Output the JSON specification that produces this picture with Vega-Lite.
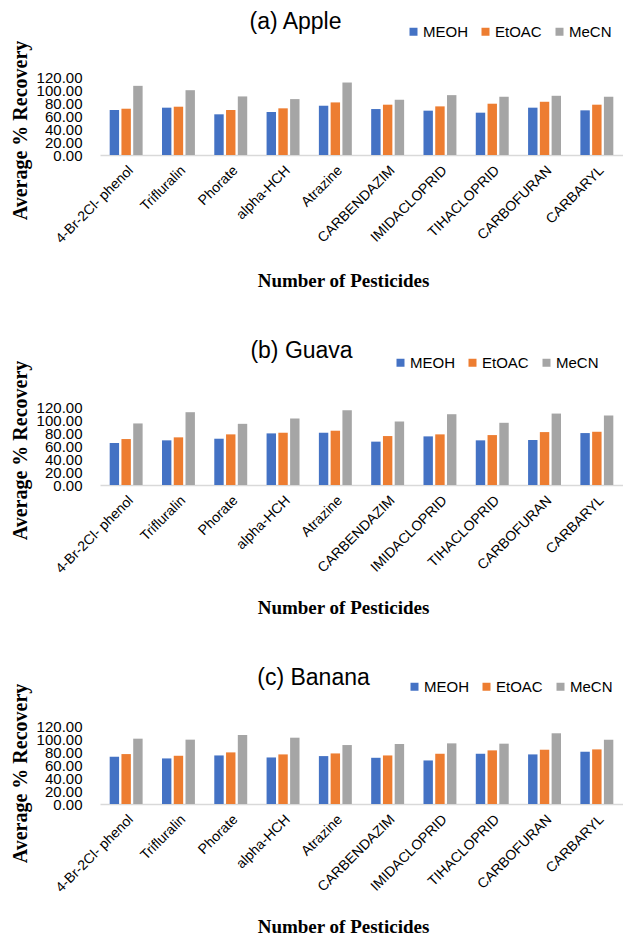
{
  "$schema": "https://vega.github.io/schema/vega-lite/v6.json",
  "padding": {"left": 10, "top": 11, "right": 0, "bottom": 0},
  "background": "white",
  "spacing": 50,
  "config": {
    "view": {"stroke": null},
    "title": {"font": "Liberation Sans", "fontSize": 23, "fontWeight": "normal", "color": "#000000", "baseline": "alphabetic"},
    "axis": {"labelColor": "#000000", "titleColor": "#000000", "grid": false, "ticks": false, "labelOverlap": false}
  },
  "datasets": {
    "rec": [
      {"fruit": "Apple", "pesticide": "4-Br-2Cl- phenol", "solvent": "MEOH", "value": 69.2},
      {"fruit": "Apple", "pesticide": "4-Br-2Cl- phenol", "solvent": "EtOAC", "value": 71.2},
      {"fruit": "Apple", "pesticide": "4-Br-2Cl- phenol", "solvent": "MeCN", "value": 106.4},
      {"fruit": "Apple", "pesticide": "Trifluralin", "solvent": "MEOH", "value": 72.8},
      {"fruit": "Apple", "pesticide": "Trifluralin", "solvent": "EtOAC", "value": 74.3},
      {"fruit": "Apple", "pesticide": "Trifluralin", "solvent": "MeCN", "value": 99.7},
      {"fruit": "Apple", "pesticide": "Phorate", "solvent": "MEOH", "value": 62.6},
      {"fruit": "Apple", "pesticide": "Phorate", "solvent": "EtOAC", "value": 69.2},
      {"fruit": "Apple", "pesticide": "Phorate", "solvent": "MeCN", "value": 90.1},
      {"fruit": "Apple", "pesticide": "alpha-HCH", "solvent": "MEOH", "value": 66.2},
      {"fruit": "Apple", "pesticide": "alpha-HCH", "solvent": "EtOAC", "value": 71.8},
      {"fruit": "Apple", "pesticide": "alpha-HCH", "solvent": "MeCN", "value": 86.0},
      {"fruit": "Apple", "pesticide": "Atrazine", "solvent": "MEOH", "value": 75.8},
      {"fruit": "Apple", "pesticide": "Atrazine", "solvent": "EtOAC", "value": 80.9},
      {"fruit": "Apple", "pesticide": "Atrazine", "solvent": "MeCN", "value": 111.5},
      {"fruit": "Apple", "pesticide": "CARBENDAZIM", "solvent": "MEOH", "value": 70.7},
      {"fruit": "Apple", "pesticide": "CARBENDAZIM", "solvent": "EtOAC", "value": 77.4},
      {"fruit": "Apple", "pesticide": "CARBENDAZIM", "solvent": "MeCN", "value": 85.0},
      {"fruit": "Apple", "pesticide": "IMIDACLOPRID", "solvent": "MEOH", "value": 68.2},
      {"fruit": "Apple", "pesticide": "IMIDACLOPRID", "solvent": "EtOAC", "value": 74.8},
      {"fruit": "Apple", "pesticide": "IMIDACLOPRID", "solvent": "MeCN", "value": 92.1},
      {"fruit": "Apple", "pesticide": "TIHACLOPRID", "solvent": "MEOH", "value": 65.1},
      {"fruit": "Apple", "pesticide": "TIHACLOPRID", "solvent": "EtOAC", "value": 78.9},
      {"fruit": "Apple", "pesticide": "TIHACLOPRID", "solvent": "MeCN", "value": 89.6},
      {"fruit": "Apple", "pesticide": "CARBOFURAN", "solvent": "MEOH", "value": 72.8},
      {"fruit": "Apple", "pesticide": "CARBOFURAN", "solvent": "EtOAC", "value": 81.9},
      {"fruit": "Apple", "pesticide": "CARBOFURAN", "solvent": "MeCN", "value": 91.1},
      {"fruit": "Apple", "pesticide": "CARBARYL", "solvent": "MEOH", "value": 68.7},
      {"fruit": "Apple", "pesticide": "CARBARYL", "solvent": "EtOAC", "value": 77.4},
      {"fruit": "Apple", "pesticide": "CARBARYL", "solvent": "MeCN", "value": 89.6},

      {"fruit": "Guava", "pesticide": "4-Br-2Cl- phenol", "solvent": "MEOH", "value": 64.6},
      {"fruit": "Guava", "pesticide": "4-Br-2Cl- phenol", "solvent": "EtOAC", "value": 70.7},
      {"fruit": "Guava", "pesticide": "4-Br-2Cl- phenol", "solvent": "MeCN", "value": 94.7},
      {"fruit": "Guava", "pesticide": "Trifluralin", "solvent": "MEOH", "value": 68.7},
      {"fruit": "Guava", "pesticide": "Trifluralin", "solvent": "EtOAC", "value": 73.3},
      {"fruit": "Guava", "pesticide": "Trifluralin", "solvent": "MeCN", "value": 112.0},
      {"fruit": "Guava", "pesticide": "Phorate", "solvent": "MEOH", "value": 71.2},
      {"fruit": "Guava", "pesticide": "Phorate", "solvent": "EtOAC", "value": 77.9},
      {"fruit": "Guava", "pesticide": "Phorate", "solvent": "MeCN", "value": 94.1},
      {"fruit": "Guava", "pesticide": "alpha-HCH", "solvent": "MEOH", "value": 79.4},
      {"fruit": "Guava", "pesticide": "alpha-HCH", "solvent": "EtOAC", "value": 80.4},
      {"fruit": "Guava", "pesticide": "alpha-HCH", "solvent": "MeCN", "value": 102.3},
      {"fruit": "Guava", "pesticide": "Atrazine", "solvent": "MEOH", "value": 80.4},
      {"fruit": "Guava", "pesticide": "Atrazine", "solvent": "EtOAC", "value": 83.5},
      {"fruit": "Guava", "pesticide": "Atrazine", "solvent": "MeCN", "value": 115.0},
      {"fruit": "Guava", "pesticide": "CARBENDAZIM", "solvent": "MEOH", "value": 66.7},
      {"fruit": "Guava", "pesticide": "CARBENDAZIM", "solvent": "EtOAC", "value": 75.3},
      {"fruit": "Guava", "pesticide": "CARBENDAZIM", "solvent": "MeCN", "value": 97.7},
      {"fruit": "Guava", "pesticide": "IMIDACLOPRID", "solvent": "MEOH", "value": 74.8},
      {"fruit": "Guava", "pesticide": "IMIDACLOPRID", "solvent": "EtOAC", "value": 77.9},
      {"fruit": "Guava", "pesticide": "IMIDACLOPRID", "solvent": "MeCN", "value": 108.9},
      {"fruit": "Guava", "pesticide": "TIHACLOPRID", "solvent": "MEOH", "value": 68.7},
      {"fruit": "Guava", "pesticide": "TIHACLOPRID", "solvent": "EtOAC", "value": 76.8},
      {"fruit": "Guava", "pesticide": "TIHACLOPRID", "solvent": "MeCN", "value": 95.7},
      {"fruit": "Guava", "pesticide": "CARBOFURAN", "solvent": "MEOH", "value": 69.2},
      {"fruit": "Guava", "pesticide": "CARBOFURAN", "solvent": "EtOAC", "value": 81.4},
      {"fruit": "Guava", "pesticide": "CARBOFURAN", "solvent": "MeCN", "value": 109.9},
      {"fruit": "Guava", "pesticide": "CARBARYL", "solvent": "MEOH", "value": 79.9},
      {"fruit": "Guava", "pesticide": "CARBARYL", "solvent": "EtOAC", "value": 81.9},
      {"fruit": "Guava", "pesticide": "CARBARYL", "solvent": "MeCN", "value": 106.9},

      {"fruit": "Banana", "pesticide": "4-Br-2Cl- phenol", "solvent": "MEOH", "value": 72.7},
      {"fruit": "Banana", "pesticide": "4-Br-2Cl- phenol", "solvent": "EtOAC", "value": 76.8},
      {"fruit": "Banana", "pesticide": "4-Br-2Cl- phenol", "solvent": "MeCN", "value": 100.5},
      {"fruit": "Banana", "pesticide": "Trifluralin", "solvent": "MEOH", "value": 70.1},
      {"fruit": "Banana", "pesticide": "Trifluralin", "solvent": "EtOAC", "value": 74.2},
      {"fruit": "Banana", "pesticide": "Trifluralin", "solvent": "MeCN", "value": 99.0},
      {"fruit": "Banana", "pesticide": "Phorate", "solvent": "MEOH", "value": 74.7},
      {"fruit": "Banana", "pesticide": "Phorate", "solvent": "EtOAC", "value": 79.4},
      {"fruit": "Banana", "pesticide": "Phorate", "solvent": "MeCN", "value": 106.2},
      {"fruit": "Banana", "pesticide": "alpha-HCH", "solvent": "MEOH", "value": 71.6},
      {"fruit": "Banana", "pesticide": "alpha-HCH", "solvent": "EtOAC", "value": 76.3},
      {"fruit": "Banana", "pesticide": "alpha-HCH", "solvent": "MeCN", "value": 102.0},
      {"fruit": "Banana", "pesticide": "Atrazine", "solvent": "MEOH", "value": 73.7},
      {"fruit": "Banana", "pesticide": "Atrazine", "solvent": "EtOAC", "value": 77.8},
      {"fruit": "Banana", "pesticide": "Atrazine", "solvent": "MeCN", "value": 90.7},
      {"fruit": "Banana", "pesticide": "CARBENDAZIM", "solvent": "MEOH", "value": 71.1},
      {"fruit": "Banana", "pesticide": "CARBENDAZIM", "solvent": "EtOAC", "value": 74.7},
      {"fruit": "Banana", "pesticide": "CARBENDAZIM", "solvent": "MeCN", "value": 92.3},
      {"fruit": "Banana", "pesticide": "IMIDACLOPRID", "solvent": "MEOH", "value": 67.0},
      {"fruit": "Banana", "pesticide": "IMIDACLOPRID", "solvent": "EtOAC", "value": 77.3},
      {"fruit": "Banana", "pesticide": "IMIDACLOPRID", "solvent": "MeCN", "value": 93.3},
      {"fruit": "Banana", "pesticide": "TIHACLOPRID", "solvent": "MEOH", "value": 77.3},
      {"fruit": "Banana", "pesticide": "TIHACLOPRID", "solvent": "EtOAC", "value": 82.5},
      {"fruit": "Banana", "pesticide": "TIHACLOPRID", "solvent": "MeCN", "value": 92.8},
      {"fruit": "Banana", "pesticide": "CARBOFURAN", "solvent": "MEOH", "value": 76.3},
      {"fruit": "Banana", "pesticide": "CARBOFURAN", "solvent": "EtOAC", "value": 83.5},
      {"fruit": "Banana", "pesticide": "CARBOFURAN", "solvent": "MeCN", "value": 108.8},
      {"fruit": "Banana", "pesticide": "CARBARYL", "solvent": "MEOH", "value": 80.4},
      {"fruit": "Banana", "pesticide": "CARBARYL", "solvent": "EtOAC", "value": 84.0},
      {"fruit": "Banana", "pesticide": "CARBARYL", "solvent": "MeCN", "value": 99.0}
    ]
  },
  "vconcat": [
    {
      "data": {"name": "rec"},
      "transform": [{"filter": "datum.fruit === 'Apple'"}],
      "title": {"text": "(a) Apple", "dx": -66, "offset": -10},
      "width": 523, "height": 78,
      "mark": {"type": "bar"},
      "encoding": {
        "x": {"field": "pesticide", "type": "nominal", "sort": null,
          "scale": {"paddingInner": 0.37, "paddingOuter": 0.185},
          "axis": {"title": "Number of Pesticides", "labelAngle": -45, "labelFont": "Liberation Sans", "labelFontSize": 14, "labelPadding": 8,
            "domainColor": "#D9D9D9", "domainWidth": 1.5, "titleFont": "Liberation Serif", "titleFontSize": 19, "titleFontWeight": "bold",
            "titleX": 243, "titleY": 131, "titleBaseline": "alphabetic", "titleAlign": "center"}},
        "xOffset": {"field": "solvent", "type": "nominal", "sort": ["MEOH", "EtOAC", "MeCN"], "scale": {"paddingInner": 0.2}},
        "y": {"field": "value", "type": "quantitative", "scale": {"domain": [0, 120], "nice": false},
          "axis": {"title": "Average % Recovery", "values": [0, 20, 40, 60, 80, 100, 120], "format": ".2f", "domain": false,
            "labelFont": "Liberation Sans", "labelFontSize": 15, "labelPadding": 18,
            "titleFont": "Liberation Serif", "titleFontSize": 20, "titleFontWeight": "bold",
            "titleX": -80, "titleY": 53, "titleBaseline": "middle", "titleAngle": -90, "titleAlign": "center"}},
        "color": {"field": "solvent", "type": "nominal", "sort": ["MEOH", "EtOAC", "MeCN"],
          "scale": {"domain": ["MEOH", "EtOAC", "MeCN"], "range": ["#4472C4", "#ED7D31", "#A5A5A5"]},
          "legend": {"title": null, "orient": "none", "direction": "horizontal", "legendX": 306, "legendY": -53, "padding": 0,
            "symbolType": "square", "symbolSize": 64, "symbolStrokeWidth": 0, "labelFont": "Liberation Sans", "labelFontSize": 15, "labelOffset": 2, "columnPadding": 10}}
      }
    },
    {
      "data": {"name": "rec"},
      "transform": [{"filter": "datum.fruit === 'Guava'"}],
      "title": {"text": "(b) Guava", "dx": -60, "offset": -8},
      "width": 523, "height": 78,
      "mark": {"type": "bar"},
      "encoding": {
        "x": {"field": "pesticide", "type": "nominal", "sort": null,
          "scale": {"paddingInner": 0.37, "paddingOuter": 0.185},
          "axis": {"title": "Number of Pesticides", "labelAngle": -45, "labelFont": "Liberation Sans", "labelFontSize": 14, "labelPadding": 8,
            "domainColor": "#D9D9D9", "domainWidth": 1.5, "titleFont": "Liberation Serif", "titleFontSize": 19, "titleFontWeight": "bold",
            "titleX": 243, "titleY": 128, "titleBaseline": "alphabetic", "titleAlign": "center"}},
        "xOffset": {"field": "solvent", "type": "nominal", "sort": ["MEOH", "EtOAC", "MeCN"], "scale": {"paddingInner": 0.2}},
        "y": {"field": "value", "type": "quantitative", "scale": {"domain": [0, 120], "nice": false},
          "axis": {"title": "Average % Recovery", "values": [0, 20, 40, 60, 80, 100, 120], "format": ".2f", "domain": false,
            "labelFont": "Liberation Sans", "labelFontSize": 15, "labelPadding": 18,
            "titleFont": "Liberation Serif", "titleFontSize": 20, "titleFontWeight": "bold",
            "titleX": -80, "titleY": 43, "titleBaseline": "middle", "titleAngle": -90, "titleAlign": "center"}},
        "color": {"field": "solvent", "type": "nominal", "sort": ["MEOH", "EtOAC", "MeCN"],
          "scale": {"domain": ["MEOH", "EtOAC", "MeCN"], "range": ["#4472C4", "#ED7D31", "#A5A5A5"]},
          "legend": {"title": null, "orient": "none", "direction": "horizontal", "legendX": 293, "legendY": -52, "padding": 0,
            "symbolType": "square", "symbolSize": 64, "symbolStrokeWidth": 0, "labelFont": "Liberation Sans", "labelFontSize": 15, "labelOffset": 2, "columnPadding": 10}}
      }
    },
    {
      "data": {"name": "rec"},
      "transform": [{"filter": "datum.fruit === 'Banana'"}],
      "title": {"text": "(c) Banana", "dx": -48, "offset": -11},
      "width": 523, "height": 78,
      "mark": {"type": "bar"},
      "encoding": {
        "x": {"field": "pesticide", "type": "nominal", "sort": null,
          "scale": {"paddingInner": 0.37, "paddingOuter": 0.185},
          "axis": {"title": "Number of Pesticides", "labelAngle": -45, "labelFont": "Liberation Sans", "labelFontSize": 14, "labelPadding": 8,
            "domainColor": "#D9D9D9", "domainWidth": 1.5, "titleFont": "Liberation Serif", "titleFontSize": 19, "titleFontWeight": "bold",
            "titleX": 243, "titleY": 128, "titleBaseline": "alphabetic", "titleAlign": "center"}},
        "xOffset": {"field": "solvent", "type": "nominal", "sort": ["MEOH", "EtOAC", "MeCN"], "scale": {"paddingInner": 0.2}},
        "y": {"field": "value", "type": "quantitative", "scale": {"domain": [0, 120], "nice": false},
          "axis": {"title": "Average % Recovery", "values": [0, 20, 40, 60, 80, 100, 120], "format": ".2f", "domain": false,
            "labelFont": "Liberation Sans", "labelFontSize": 15, "labelPadding": 18,
            "titleFont": "Liberation Serif", "titleFontSize": 20, "titleFontWeight": "bold",
            "titleX": -80, "titleY": 47, "titleBaseline": "middle", "titleAngle": -90, "titleAlign": "center"}},
        "color": {"field": "solvent", "type": "nominal", "sort": ["MEOH", "EtOAC", "MeCN"],
          "scale": {"domain": ["MEOH", "EtOAC", "MeCN"], "range": ["#4472C4", "#ED7D31", "#A5A5A5"]},
          "legend": {"title": null, "orient": "none", "direction": "horizontal", "legendX": 307, "legendY": -47, "padding": 0,
            "symbolType": "square", "symbolSize": 64, "symbolStrokeWidth": 0, "labelFont": "Liberation Sans", "labelFontSize": 15, "labelOffset": 2, "columnPadding": 10}}
      }
    }
  ],
  "resolve": {"scale": {"x": "independent", "y": "independent", "color": "independent"}, "legend": {"color": "independent"}}
}
